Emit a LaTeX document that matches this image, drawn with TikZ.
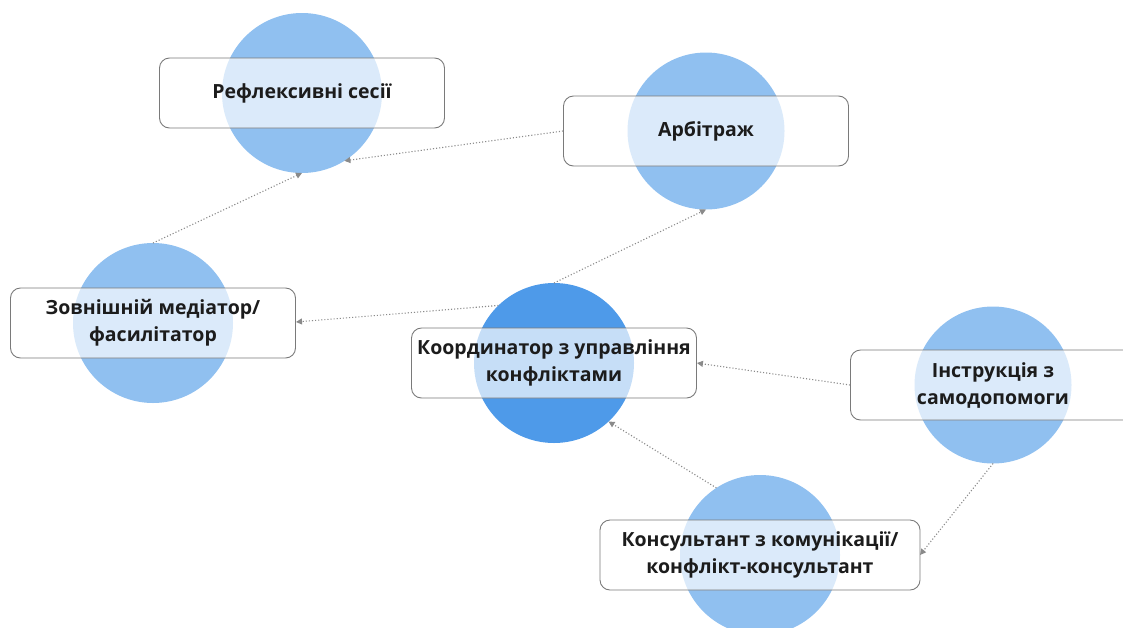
\documentclass[tikz,border=0pt]{standalone}
\usepackage{fontspec}
\setmainfont{Open Sans}
\usetikzlibrary{arrows.meta}

\definecolor{bubbleblue}{HTML}{90C0F0}
\definecolor{corelblue}{HTML}{4E9AE9}
\definecolor{linkgray}{HTML}{8A8A8A}
\definecolor{framegray}{HTML}{7A7A7A}
\definecolor{inkdark}{HTML}{1C1C1C}

\tikzset{
  bubble/.style={circle, fill=bubbleblue, minimum size=160pt, inner sep=0pt, outer sep=0pt},
  card/.style={rectangle, rounded corners=10pt, draw=framegray, line width=0.9pt,
    fill=white, fill opacity=0.68, text opacity=1, text=inkdark,
    minimum width=285pt, minimum height=70pt, inner sep=0pt, align=center,
    font=\fontsize{19.5}{27}\selectfont\bfseries,
    execute at begin node={\vspace*{6pt}}},
  link/.style={draw=linkgray, line width=1.1pt, dotted,
    -{Triangle[length=6pt,width=6pt]}}
}

\begin{document}
\begin{tikzpicture}[x=1pt, y=-1pt]
        \useasboundingbox (0,0) rectangle (1123,627);

        % кола
        \node[bubble] (refl) at (302,93) {};
        \node[bubble, minimum size=157pt] (arb) at (706,131) {};
        \node[bubble] (ext) at (153,323) {};
        \node[bubble, fill=corelblue] (coord) at (554,363) {};
        \node[bubble, minimum size=157pt] (instr) at (993,385) {};
        \node[bubble] (cons) at (760,555) {};

        % зв'язки
        \draw[link] (ext.90) -- (refl.-90);
        \draw[link] (coord.90) -- (arb.-90);
        \draw[link] (coord.134) -- (296,322);
        \draw[link] (cons.123) -- (coord.-47);
        \draw[link] (instr.-90) -- (920,555);

        % картки
        \node[card] (reflbox) at (refl) {Рефлексивні сесії};
        \node[card] (arbbox) at (arb) {Арбітраж};
        \node[card] (extbox) at (ext) {Зовнішній медіатор/\\фасилітатор};
        \node[card] (coordbox) at (coord) {Координатор з управління\\конфліктами};
        \node[card] (instrbox) at (instr) {Інструкція з\\самодопомоги};
        \node[card, minimum width=320pt] (consbox) at (cons) {Консультант з комунікації/\\конфлікт-консультант};

        % стрілки до карток
        \draw[link] (arbbox.west) -- (refl.-58);
        \draw[link] (instrbox.west) -- (coordbox.east);
    \end{tikzpicture}
\end{document}
